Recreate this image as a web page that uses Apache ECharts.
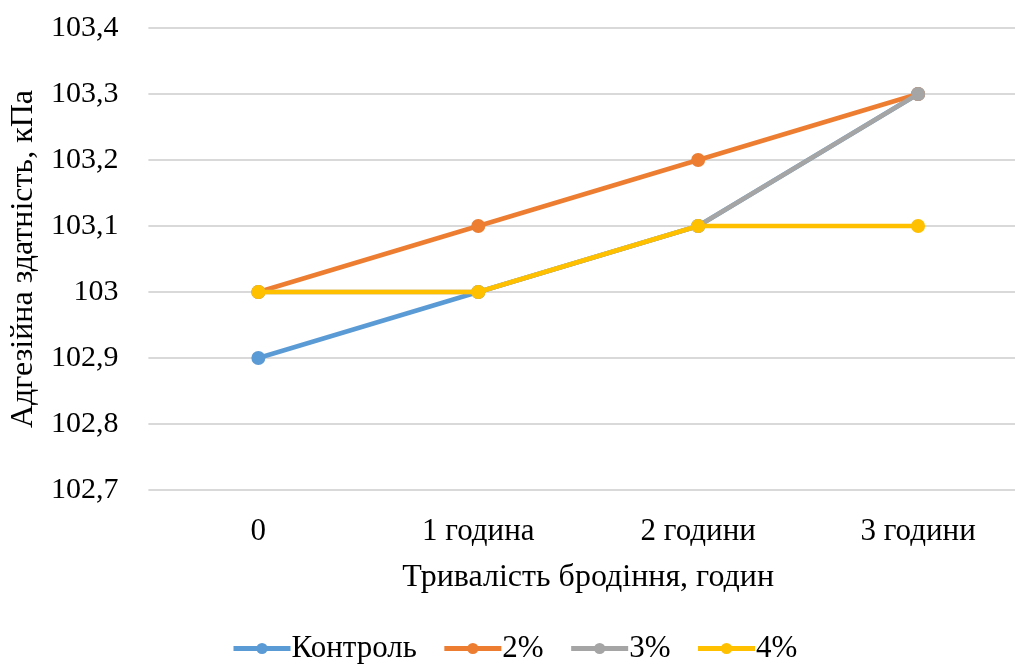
<!DOCTYPE html>
<html>
<head>
<meta charset="utf-8">
<script src="https://cdn.jsdelivr.net/npm/echarts@6/dist/echarts.min.js"></script>
<style>
  html, body { margin: 0; padding: 0; background: #fff; overflow: hidden; }
  /* the plot area runs slightly past the visible right edge */
  #chart { width: 1028px; height: 666px; }
</style>
</head>
<body>
<div id="chart"></div>
<script>
// Fermentation time categories
const categories = ['0', '1 година', '2 години', '3 години'];
// Adhesion (kPa) for each dough variant
const control = [102.9, 103.0, 103.1, 103.3];
const pct2 = [103.0, 103.1, 103.2, 103.3];
const pct3 = [103.0, 103.0, 103.1, 103.3];
const pct4 = [103.0, 103.0, 103.1, 103.1];
const seriesNames = ['Контроль', '2%', '3%', '4%'];
const colors = ['#5B9BD5', '#ED7D31', '#A5A5A5', '#FFC000'];

const font = 'Liberation Serif, Times New Roman, serif';
const chart = echarts.init(document.getElementById('chart'));

const dataSets = [control, pct2, pct3, pct4];
chart.setOption({
  animation: false,
  color: colors,
  textStyle: { fontFamily: font, color: '#000' },
  grid: { left: 148, right: 0, top: 28, height: 462 },
  legend: {
    top: 628,
    left: 226,
    itemWidth: 57,
    itemHeight: 14,
    itemGap: 25,
    lineStyle: { width: 5 },
    textStyle: { fontFamily: font, fontSize: 31, color: '#000', padding: [0, 0, 0, -4] },
    data: seriesNames
  },
  xAxis: {
    type: 'category',
    data: categories,
    boundaryGap: true,
    axisLine: { show: false },
    axisTick: { show: false },
    axisLabel: { fontFamily: font, fontSize: 31, color: '#000', margin: 26 },
    name: 'Тривалість бродіння, годин',
    nameLocation: 'middle',
    nameGap: 72,
    nameTextStyle: { fontFamily: font, fontSize: 32, color: '#000' }
  },
  yAxis: {
    type: 'value',
    min: 102.7,
    max: 103.4,
    interval: 0.1,
    axisLine: { show: false },
    axisTick: { show: false },
    splitLine: { lineStyle: { color: '#D9D9D9', width: 2 } },
    axisLabel: {
      fontFamily: font, fontSize: 30, color: '#000', margin: 30,
      formatter: v => (Math.round(v * 10) / 10).toString().replace('.', ',')
    },
    name: 'Адгезійна здатність, кПа',
    nameLocation: 'middle',
    nameGap: 102,
    nameTextStyle: { fontFamily: font, fontSize: 32, color: '#000' }
  },
  series: seriesNames.map((n, i) => ({
    name: n,
    type: 'line',
    data: dataSets[i],
    symbol: 'circle',
    symbolSize: 14,
    lineStyle: { width: 4.5, color: colors[i] },
    itemStyle: { color: colors[i] },
    z: 2 + i
  }))
});
</script>
</body>
</html>
